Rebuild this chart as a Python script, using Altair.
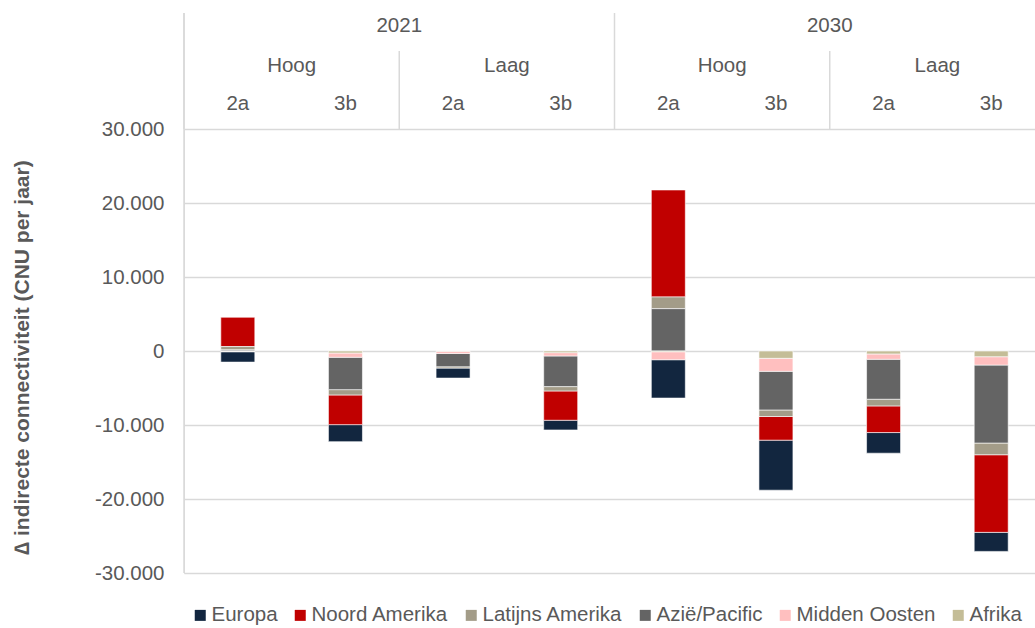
import altair as alt
import pandas as pd

# ---- data ----
years = ["2021", "2021", "2021", "2021", "2030", "2030", "2030", "2030"]
scenarios = ["Hoog", "Hoog", "Laag", "Laag", "Hoog", "Hoog", "Laag", "Laag"]
variants = ["2a", "3b", "2a", "3b", "2a", "3b", "2a", "3b"]

regions = ["Europa", "Noord Amerika", "Latijns Amerika", "Azië/Pacific", "Midden Oosten", "Afrika"]
region_colors = ["#12263f", "#c00000", "#a39c88", "#646464", "#ffbfbf", "#c4bd97"]
# stacking order outward from zero (Afrika closest to zero)
stack_order = [5, 4, 3, 2, 1, 0]

europa = [-1400, -2300, -1350, -1310, -5180, -6760, -2790, -2570]
noord_amerika = [3960, -4010, 0, -3960, 14460, -3200, -3600, -10490]
latijns_amerika = [450, -720, -180, -590, 1580, -880, -900, -1580]
azie_pacific = [150, -4370, -1800, -4140, 5720, -5220, -5400, -10540]
midden_oosten = [-50, -580, -300, -450, -1080, -1760, -720, -1130]
afrika = [-50, -270, -30, -220, -100, -990, -400, -770]

series = [europa, noord_amerika, latijns_amerika, azie_pacific, midden_oosten, afrika]

keys = [f"{y}|{s}|{v}" for y, s, v in zip(years, scenarios, variants)]

rows = []
for r, vals, o in zip(regions, series, stack_order):
    for k, v in zip(keys, vals):
        rows.append({"key": k, "regio": r, "waarde": v, "volgorde": o})
df = pd.DataFrame(rows)

# header labels
scen_df = pd.DataFrame({"key": [keys[0], keys[2], keys[4], keys[6]],
                        "label": [scenarios[0], scenarios[2], scenarios[4], scenarios[6]]})
year_df = pd.DataFrame({"key": [keys[1], keys[5]], "label": [years[1], years[5]]})
year_sep_df = pd.DataFrame({"key": [keys[0], keys[4]]})
scen_sep_df = pd.DataFrame({"key": [keys[2], keys[6]]})

FONT = "Liberation Sans"
TXT = "#595959"
GRID = "#d9d9d9"
FS = 20.5

xscale = alt.Scale(domain=keys, paddingInner=0, paddingOuter=0)

bars = alt.Chart(df).mark_bar(size=34, stroke="white", strokeWidth=0.6).encode(
    x=alt.X("key:N", scale=xscale, sort=keys, title=None,
            axis=alt.Axis(orient="top", labelExpr="split(datum.label, '|')[2]",
                          ticks=False, tickSize=0, domain=False, grid=False,
                          labelFontSize=FS, labelColor=TXT, labelPadding=26,
                          labelBaseline="middle", labelAlign="center", labelAngle=0,
                          labelFont=FONT)),
    y=alt.Y("waarde:Q", stack="zero",
            scale=alt.Scale(domain=[-30000, 30000], nice=False),
            axis=alt.Axis(values=[-30000, -20000, -10000, 0, 10000, 20000, 30000],
                          labelExpr="datum.value == 0 ? '0' : (datum.value < 0 ? '-' : '') + format(abs(datum.value) / 1000, 'd') + '.000'",
                          domain=False, ticks=False, grid=True, gridColor=GRID, gridWidth=1.5,
                          labelFontSize=FS, labelColor=TXT, labelPadding=20, labelFont=FONT,
                          title="∆ indirecte connectiviteit (CNU per jaar)",
                          titleFontSize=21, titleFontWeight="bold", titleColor=TXT, titleFont=FONT,
                          titleX=-162, titleY=228, titleAlign="center", titleBaseline="middle",
                          titleAngle=270)),
    color=alt.Color("regio:N", scale=alt.Scale(domain=regions, range=region_colors),
                    legend=alt.Legend(orient="none", direction="horizontal", title=None,
                                      legendX=6, legendY=476, symbolType="square",
                                      symbolSize=121, symbolStrokeWidth=0, labelOffset=1,
                                      columnPadding=12, labelFontSize=FS, labelColor=TXT,
                                      labelFont=FONT, padding=0, columns=6)),
    order=alt.Order("volgorde:Q", sort="ascending"),
)

scen_text = alt.Chart(scen_df).mark_text(fontSize=FS, color=TXT, font=FONT, baseline="middle").encode(
    x=alt.X("key:N", scale=xscale, bandPosition=1),
    y=alt.value(-63),
    text="label:N",
)

year_text = alt.Chart(year_df).mark_text(fontSize=FS, color=TXT, font=FONT, baseline="middle").encode(
    x=alt.X("key:N", scale=xscale, bandPosition=1),
    y=alt.value(-103),
    text="label:N",
)

year_sep = alt.Chart(year_sep_df).mark_rule(color=GRID, strokeWidth=1.5).encode(
    x=alt.X("key:N", scale=xscale, bandPosition=0),
    y=alt.value(-116),
    y2=alt.value(0),
)

left_line = alt.Chart(pd.DataFrame({"key": [keys[0]]})).mark_rule(color=GRID, strokeWidth=1.5).encode(
    x=alt.X("key:N", scale=xscale, bandPosition=0),
    y=alt.value(-116),
    y2=alt.value(444),
)

scen_sep = alt.Chart(scen_sep_df).mark_rule(color=GRID, strokeWidth=1.5).encode(
    x=alt.X("key:N", scale=xscale, bandPosition=0),
    y=alt.value(-78),
    y2=alt.value(0),
)

chart = alt.layer(year_sep, scen_sep, left_line, bars, scen_text, year_text).properties(
    width=861, height=444,
    autosize=alt.AutoSizeParams(type="none"),
    padding={"left": 184, "top": 129, "right": -10, "bottom": 55},
).configure_view(stroke=None).configure(font=FONT, background="white")

chart.save("out.html", embed_options={"renderer": "svg", "actions": False})
